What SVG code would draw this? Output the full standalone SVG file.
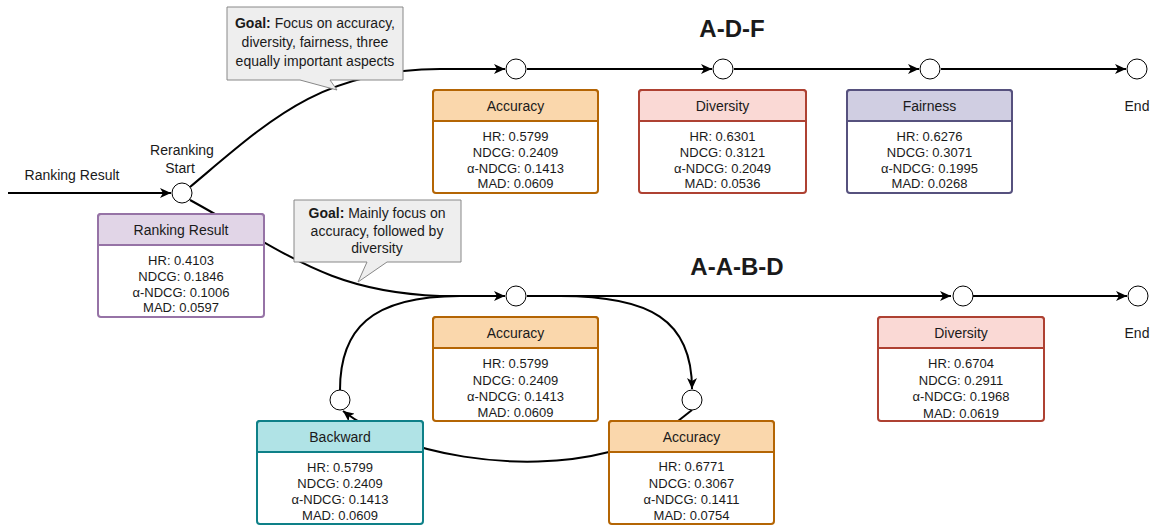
<svg xmlns="http://www.w3.org/2000/svg" width="1154" height="525" viewBox="0 0 1154 525">
<style>
text{font-family:"Liberation Sans",Arial,sans-serif;fill:#1a1a1a;text-anchor:middle}
.b{font-size:13px}
.h{font-size:14px}
.t{font-size:24px;font-weight:bold}
.l{font-size:14px}
.c{fill:#fff;stroke:#000;stroke-width:1}
.e{fill:none;stroke:#000;stroke-width:2}
.box{fill:#fff;stroke-width:2}
.acc{stroke:#b46504}.acch{fill:#fad7ac;stroke:#b46504;stroke-width:2}
.div{stroke:#ae4132}.divh{fill:#fad9d5;stroke:#ae4132;stroke-width:2}
.fai{stroke:#56517e}.faih{fill:#d0cee2;stroke:#56517e;stroke-width:2}
.rr{stroke:#9673a6}.rrh{fill:#e1d5e7;stroke:#9673a6;stroke-width:2}
.bw{stroke:#0e8088}.bwh{fill:#b0e3e6;stroke:#0e8088;stroke-width:2}
.call{fill:#eeeeee;stroke:#888888;stroke-width:1}
</style>
<defs>
<marker id="arr" markerUnits="userSpaceOnUse" markerWidth="12" markerHeight="10" refX="11" refY="5" orient="auto">
<path d="M0,0 L11,5 L0,10 L3,5 z" fill="#000"/>
</marker>
</defs>
<g id="connectors">
<path class="e" d="M8,193 L171,193" marker-end="url(#arr)"/>
<path class="e" d="M190,187 C270,120 320,70 440,69 L505,69" marker-end="url(#arr)"/>
<path class="e" d="M527,69 L712,69" marker-end="url(#arr)"/>
<path class="e" d="M734,69 L919,69" marker-end="url(#arr)"/>
<path class="e" d="M941,69 L1126,69" marker-end="url(#arr)"/>
<path class="e" d="M190,200 C290,255 330,292 440,296 L505,296" marker-end="url(#arr)"/>
<path class="e" d="M340,390 C340,330 370,296 460,296"/>
<path class="e" d="M527,296 L951,296" marker-end="url(#arr)"/>
<path class="e" d="M973,296 L1127,296" marker-end="url(#arr)"/>
<path class="e" d="M560,296 C650,296 692,320 692,389" marker-end="url(#arr)"/>
<path class="e" d="M692,410 L678,421"/>
<path class="e" d="M609,452 C520,475 400,455 343,411" marker-end="url(#arr)"/>
</g>
<g id="callout1">
<path class="call" d="M227,7 H403 V80 H330 L337,90 L300,80 H227 Z"/>
<text class="l" x="315" y="28"><tspan font-weight="bold">Goal:</tspan> Focus on accuracy,</text>
<text class="l" x="315" y="47">diversity, fairness, three</text>
<text class="l" x="315" y="66">equally important aspects</text>
</g>
<g id="callout2">
<path class="call" d="M294,200 H461 V262 H387 L358,282 L367,262 H294 Z"/>
<text class="l" x="377" y="218"><tspan font-weight="bold">Goal:</tspan> Mainly focus on</text>
<text class="l" x="377" y="236">accuracy, followed by</text>
<text class="l" x="377" y="253">diversity</text>
</g>
<g id="labels">
<text class="l" x="72" y="180">Ranking Result</text>
<text class="l" x="182" y="155">Reranking</text>
<text class="l" x="180" y="173">Start</text>
<text class="t" x="732" y="37">A-D-F</text>
<text class="t" x="737" y="275">A-A-B-D</text>
<text class="l" x="1137" y="111">End</text>
<text class="l" x="1137" y="338">End</text>
</g>
<g id="circles">
<circle id="start" class="c" cx="182" cy="193" r="10"/>
<circle id="c1" class="c" cx="516" cy="69" r="10"/>
<circle id="c2" class="c" cx="723" cy="69" r="10"/>
<circle id="c3" class="c" cx="930" cy="69" r="10"/>
<circle id="end1" class="c" cx="1137" cy="69" r="10"/>
<circle id="c4" class="c" cx="516" cy="296" r="10"/>
<circle id="c5" class="c" cx="963" cy="296" r="10"/>
<circle id="end2" class="c" cx="1138" cy="296" r="10"/>
<circle id="c6" class="c" cx="340" cy="400" r="10"/>
<circle id="c7" class="c" cx="692" cy="400" r="10"/>
</g>
<g id="accuracy1">
<rect class="box acc" x="433" y="90" width="165" height="103" rx="3"/>
<path class="acch" d="M433,121 V93 Q433,90 436,90 H595 Q598,90 598,93 V121 Z"/>
<text class="h" x="515.5" y="111">Accuracy</text>
<text class="b" x="515.5" y="141">HR: 0.5799</text>
<text class="b" x="515.5" y="157">NDCG: 0.2409</text>
<text class="b" x="515.5" y="173">α-NDCG: 0.1413</text>
<text class="b" x="515.5" y="188">MAD: 0.0609</text>
</g>
<g id="diversity1">
<rect class="box div" x="639" y="90" width="167" height="103" rx="3"/>
<path class="divh" d="M639,121 V93 Q639,90 642,90 H803 Q806,90 806,93 V121 Z"/>
<text class="h" x="722.5" y="111">Diversity</text>
<text class="b" x="722.5" y="141">HR: 0.6301</text>
<text class="b" x="722.5" y="157">NDCG: 0.3121</text>
<text class="b" x="722.5" y="173">α-NDCG: 0.2049</text>
<text class="b" x="722.5" y="188">MAD: 0.0536</text>
</g>
<g id="fairness1">
<rect class="box fai" x="847" y="90" width="165" height="103" rx="3"/>
<path class="faih" d="M847,121 V93 Q847,90 850,90 H1009 Q1012,90 1012,93 V121 Z"/>
<text class="h" x="929.5" y="111">Fairness</text>
<text class="b" x="929.5" y="141">HR: 0.6276</text>
<text class="b" x="929.5" y="157">NDCG: 0.3071</text>
<text class="b" x="929.5" y="173">α-NDCG: 0.1995</text>
<text class="b" x="929.5" y="188">MAD: 0.0268</text>
</g>
<g id="ranking">
<rect class="box rr" x="98" y="214" width="166" height="103" rx="3"/>
<path class="rrh" d="M98,245 V217 Q98,214 101,214 H261 Q264,214 264,217 V245 Z"/>
<text class="h" x="181" y="235">Ranking Result</text>
<text class="b" x="181" y="265">HR: 0.4103</text>
<text class="b" x="181" y="281">NDCG: 0.1846</text>
<text class="b" x="181" y="297">α-NDCG: 0.1006</text>
<text class="b" x="181" y="312">MAD: 0.0597</text>
</g>
<g id="accuracy2">
<rect class="box acc" x="433" y="317" width="165" height="104" rx="3"/>
<path class="acch" d="M433,348 V320 Q433,317 436,317 H595 Q598,317 598,320 V348 Z"/>
<text class="h" x="515.5" y="338">Accuracy</text>
<text class="b" x="515.5" y="368">HR: 0.5799</text>
<text class="b" x="515.5" y="385">NDCG: 0.2409</text>
<text class="b" x="515.5" y="401">α-NDCG: 0.1413</text>
<text class="b" x="515.5" y="417">MAD: 0.0609</text>
</g>
<g id="diversity2">
<rect class="box div" x="878" y="317" width="166" height="104" rx="3"/>
<path class="divh" d="M878,348 V320 Q878,317 881,317 H1041 Q1044,317 1044,320 V348 Z"/>
<text class="h" x="961" y="338">Diversity</text>
<text class="b" x="961" y="368">HR: 0.6704</text>
<text class="b" x="961" y="385">NDCG: 0.2911</text>
<text class="b" x="961" y="401">α-NDCG: 0.1968</text>
<text class="b" x="961" y="418">MAD: 0.0619</text>
</g>
<g id="backward">
<rect class="box bw" x="257" y="421" width="166" height="103" rx="3"/>
<path class="bwh" d="M257,452 V424 Q257,421 260,421 H420 Q423,421 423,424 V452 Z"/>
<text class="h" x="340" y="442">Backward</text>
<text class="b" x="340" y="472">HR: 0.5799</text>
<text class="b" x="340" y="488">NDCG: 0.2409</text>
<text class="b" x="340" y="504">α-NDCG: 0.1413</text>
<text class="b" x="340" y="520">MAD: 0.0609</text>
</g>
<g id="accuracy3">
<rect class="box acc" x="609" y="421" width="165" height="103" rx="3"/>
<path class="acch" d="M609,452 V424 Q609,421 612,421 H771 Q774,421 774,424 V452 Z"/>
<text class="h" x="691.5" y="442">Accuracy</text>
<text class="b" x="691.5" y="471">HR: 0.6771</text>
<text class="b" x="691.5" y="488">NDCG: 0.3067</text>
<text class="b" x="691.5" y="504">α-NDCG: 0.1411</text>
<text class="b" x="691.5" y="520">MAD: 0.0754</text>
</g>
</svg>
